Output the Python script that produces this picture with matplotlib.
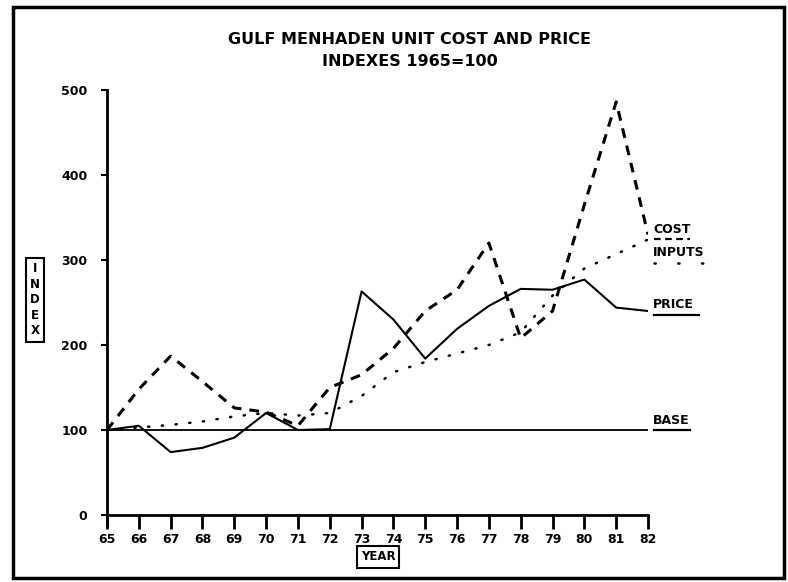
import matplotlib
matplotlib.use('Agg')
import matplotlib.pyplot as plt
from matplotlib.lines import Line2D
from matplotlib.patches import Rectangle


# -----------------------------------------------------------------------------
# Data (index 1965 = 100)
# -----------------------------------------------------------------------------

years = list(range(65, 83))
year_labels = [str(y) for y in years]

price = [100, 105, 74, 79, 91, 120, 100, 101, 263, 230, 184, 219, 246, 266, 265, 277, 244, 240]
cost = [100, 148, 187, 157, 126, 121, 105, 150, 165, 196, 240, 265, 320, 208, 240, 365, 486, 330]
inputs = [100, 103, 106, 110, 116, 120, 117, 120, 140, 168, 180, 190, 200, 215, 258, 290, 307, 324]
base = [100] * len(years)

y_ticks = [0, 100, 200, 300, 400, 500]

title_1 = 'GULF MENHADEN UNIT COST AND PRICE'
title_2 = 'INDEXES 1965=100'


# -----------------------------------------------------------------------------
# Figure layout (pixel positions taken from the 788x582 original)
# -----------------------------------------------------------------------------

W, H = 788.0, 582.0
plt.rcParams['font.family'] = ['DejaVu Sans']


def fx(x):
    return x / W


def fy(y):
    return 1.0 - y / H


fig = plt.figure(figsize=(W / 100, H / 100), dpi=100)
ax = fig.add_axes([fx(107), fy(515), (648 - 107) / W, (515 - 90) / H])

# series
ax.plot(years, base, color='black', lw=1.3)
ax.plot(years, price, color='black', lw=1.5)
ax.plot(years, cost, color='black', lw=2.2, dashes=(3.2, 2.6))
ax.plot(years, inputs, color='black', lw=1.8, dashes=(0.5, 5), dash_capstyle='round')

ax.set_xlim(65, 82)
ax.set_ylim(0, 500)
ax.set_xticks(years)
ax.set_xticklabels(year_labels)
ax.set_yticks(y_ticks)
ax.set_yticklabels([str(v) for v in y_ticks])

for side in ['top', 'right']:
    ax.spines[side].set_visible(False)
for side in ['left', 'bottom']:
    ax.spines[side].set_linewidth(2)
ax.spines['left'].set_bounds(-12, 500)

ax.tick_params(axis='x', direction='out', length=10, width=2, pad=3, labelsize=9)
ax.tick_params(axis='y', direction='out', length=4, width=1.5, pad=10, labelsize=9)
for lab in ax.get_xticklabels() + ax.get_yticklabels():
    lab.set_fontweight('bold')

# titles
fig.text(fx(409), fy(39), title_1, ha='center', va='center', fontsize=11.5, fontweight='bold')
fig.text(fx(410), fy(61), title_2, ha='center', va='center', fontsize=11.5, fontweight='bold')

# boxed axis labels
fig.text(fx(35), fy(300), 'I\nN\nD\nE\nX', ha='center', va='center', fontsize=8.5,
         fontweight='bold', linespacing=1.25,
         bbox=dict(boxstyle='square,pad=0.35', fc='white', ec='black', lw=1.5))
fig.text(fx(378), fy(557), 'YEAR', ha='center', va='center', fontsize=8.5, fontweight='bold',
         bbox=dict(boxstyle='square,pad=0.35', fc='white', ec='black', lw=1.5))

# right-hand series labels with underlines in the line style
labels = [
    ('COST', 230, 239, dict(lw=1.6, dashes=(3, 2))),
    ('INPUTS', 252, 263, dict(lw=1.8, dashes=(0.5, 9), dash_capstyle='round')),
    ('PRICE', 305, 315, dict(lw=1.6)),
    ('BASE', 421, 430, dict(lw=1.6)),
]
for text, y_text, y_line, style in labels:
    fig.text(fx(653), fy(y_text), text, ha='left', va='center', fontsize=9, fontweight='bold')
    fig.add_artist(Line2D([fx(654), fx(654 + 9 * len(text))], [fy(y_line), fy(y_line)],
                          color='black', transform=fig.transFigure, **style))

# frame around the whole chart
fig.add_artist(Rectangle((fx(13), fy(578)), (784 - 13) / W, (578 - 7) / H, fill=False,
                         lw=2.5, ec='black', transform=fig.transFigure))

fig.savefig('out.png', dpi=100)
